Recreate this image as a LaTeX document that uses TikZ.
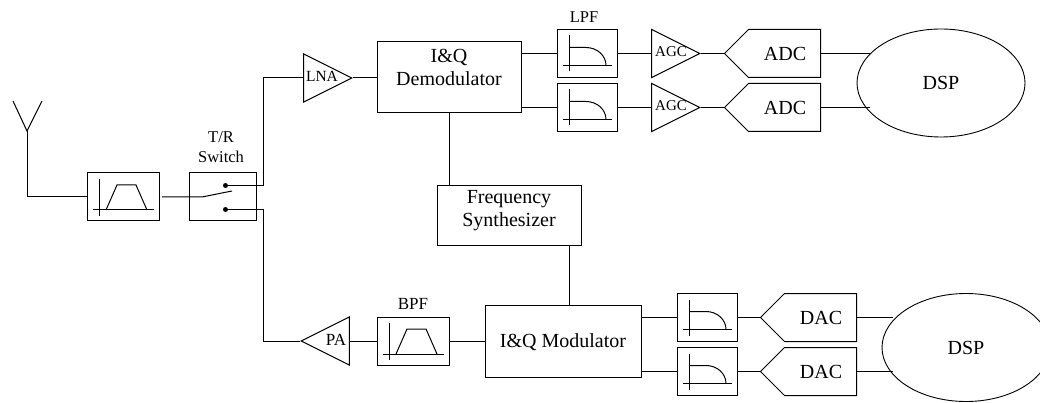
\documentclass[tikz,border=0pt]{standalone}
\usepackage{fontspec}
\setmainfont{Liberation Serif}
\usetikzlibrary{shapes.geometric, shapes.symbols, positioning, calc}
\tikzset{
  wire/.style={line width=1pt},
  blockbox/.style={draw, line width=1pt, inner sep=0pt, minimum width=#1, minimum height=48pt},
  bigtext/.style={font=\fontsize{20}{23}\selectfont, align=center, inner sep=0pt},
  smalltext/.style={font=\fontsize{16.5}{20}\selectfont, align=center, inner sep=0pt},
  ampshape/.style={draw, line width=1pt, isosceles triangle, isosceles triangle stretches, minimum width=48pt, minimum height=48pt, inner sep=0pt},
  convshape/.style={draw, line width=1pt, signal, signal to=west, signal pointer angle=90, minimum width=96pt, minimum height=48pt, inner sep=0pt, anchor=east},
  dspshape/.style={draw, line width=0.9pt, ellipse, minimum width=168pt, minimum height=108pt, inner sep=0pt},
  contact/.style={circle, fill=black, minimum size=5pt, inner sep=0pt},
  bpficon/.pic={
    \draw[line width=1pt] (-24,-18) -- (-24,19);
    \draw[line width=1pt] (-30,13) -- (31,13);
    \draw[line width=1pt] (-17,13) -- (-6,-12) -- (13,-12) -- (24,13);
  },
  lpficon/.pic={
    \draw[line width=1pt] (-17.5,-18) -- (-17.5,18);
    \draw[line width=1pt] (-24,12) -- (25,12);
    \draw[line width=1pt] (-17.5,-6) -- (-1,-6) .. controls (10,-6) and (19,2) .. (19,12);
  }
}
\begin{document}
\begin{tikzpicture}[x=1pt, y=-1pt]
  \useasboundingbox (0,0) rectangle (1040,403);

  % Antenna
  \coordinate (ant) at (27,131);
  \coordinate (antl) at (13,101);
  \coordinate (antr) at (42,101);
  \draw[wire] (antl) -- (ant) -- (antr);

  % Front end
  \node[blockbox=72pt] (filt) at (123,197) {};
  \pic at (filt) {bpficon};
  \node[blockbox=67pt] (sw) at (222.5,197) {};
  \node[smalltext] (swlabel) at (221,147) {T/R\\Switch};
  \node[contact] (rxpin) at (225.5,185.5) {};
  \node[contact] (txpin) at (225.5,209.5) {};
  \coordinate (swin) at (162,197);
  \coordinate (hinge) at (202,197);
  \coordinate (blade) at (232,191);
  \coordinate (rxturn) at (263,185.5);
  \coordinate (txturn) at (263,209.5);

  % Receive chain
  \node[ampshape, anchor=apex] (lna) at (353,78) {};
  \node[font=\fontsize{15.5}{18}\selectfont, inner sep=0pt] (lnatext) at (322,76) {LNA};
  \node[draw, line width=1pt, minimum width=144pt, minimum height=71pt, inner sep=0pt] (demod) at (449,77.5) {};
  \node[bigtext] (demodtext) at (449,67) {I\&Q\\Demodulator};
  \node[smalltext] (lpflabel) at (584,17) {LPF};
  \node[blockbox=60pt] (lpfa) at (587,53.5) {};
  \node[blockbox=60pt] (lpfb) at (587,107.5) {};
  \pic at (lpfa) {lpficon};
  \pic at (lpfb) {lpficon};
  \node[ampshape, anchor=apex] (agca) at (701,53.5) {};
  \node[ampshape, anchor=apex] (agcb) at (701,107.5) {};
  \node[font=\fontsize{15}{18}\selectfont, inner sep=0pt] (agcatext) at (671,52) {AGC};
  \node[font=\fontsize{15}{18}\selectfont, inner sep=0pt] (agcbtext) at (671,106) {AGC};
  \node[convshape] (adca) at (821,53.5) {};
  \node[convshape] (adcb) at (821,107.5) {};
  \node[bigtext] (adcatext) at (785,54) {ADC};
  \node[bigtext] (adcbtext) at (785,108) {ADC};
  \node[dspshape] (dspr) at (941,83) {};
  \node[bigtext] (dsprtext) at (941,83) {DSP};
  \coordinate (dspra) at (870,53.5);
  \coordinate (dsprb) at (870,107.5);

  % Synthesizer
  \node[draw, line width=1pt, minimum width=144pt, minimum height=59pt, inner sep=0pt] (synth) at (509,215.5) {};
  \node[bigtext] (synthtext) at (509,210.5) {Frequency\\Synthesizer};

  % Transmit chain
  \node[ampshape, shape border rotate=180, anchor=apex] (pa) at (300,341) {};
  \node[font=\fontsize{17}{20}\selectfont, inner sep=0pt] (patext) at (336,340) {PA};
  \node[font=\fontsize{17}{20}\selectfont, inner sep=0pt] (bpflabel) at (413,304) {BPF};
  \node[blockbox=72pt] (bpf) at (413,341) {};
  \pic at (bpf) {bpficon};
  \node[draw, line width=1pt, minimum width=156pt, minimum height=72pt, inner sep=0pt] (mod) at (563,341) {};
  \node[bigtext] (modtext) at (563,342) {I\&Q Modulator};
  \coordinate (modtap) at (569,305);
  \node[blockbox=60pt] (lpfc) at (707,317.5) {};
  \node[blockbox=60pt] (lpfd) at (707,371.5) {};
  \pic at (lpfc) {lpficon};
  \pic at (lpfd) {lpficon};
  \node[convshape] (daca) at (857,317.5) {};
  \node[convshape] (dacb) at (857,371.5) {};
  \node[bigtext] (dacatext) at (821,318) {DAC};
  \node[bigtext] (dacbtext) at (821,372) {DAC};
  \node[dspshape] (dspt) at (966,347.5) {};
  \node[bigtext] (dspttext) at (966,347.5) {DSP};
  \coordinate (dspta) at (893,317.5);
  \coordinate (dsptb) at (893,371.5);

  % Connectors
  \draw[wire] (ant) |- (filt.west);
  \draw[wire] (swin) -- (hinge) -- (blade);
  \draw[wire] (rxpin) -- (rxturn) |- (lna.west |- lna.apex);
  \draw[wire] (txpin) -- (txturn) |- (pa.apex);
  \draw[wire] (lna.apex) -- (demod.west |- lna.apex);
  \draw[wire] (demod.east |- lpfa.west) -- (lpfa.west);
  \draw[wire] (demod.east |- lpfb.west) -- (lpfb.west);
  \draw[wire] (lpfa.east) -- (agca.west |- lpfa.east);
  \draw[wire] (lpfb.east) -- (agcb.west |- lpfb.east);
  \draw[wire] (agca.apex) -- (adca.west);
  \draw[wire] (agcb.apex) -- (adcb.west);
  \draw[wire] (adca.east) -- (dspra);
  \draw[wire] (adcb.east) -- (dsprb);
  \draw[wire] (demod.south) -- (demod.south |- synth.north);
  \draw[wire] (modtap |- synth.south) -- (modtap);
  \draw[wire] (pa.east |- pa.apex) -- (bpf.west);
  \draw[wire] (bpf.east) -- (mod.west);
  \draw[wire] (mod.east |- lpfc.west) -- (lpfc.west);
  \draw[wire] (mod.east |- lpfd.west) -- (lpfd.west);
  \draw[wire] (lpfc.east) -- (daca.west);
  \draw[wire] (lpfd.east) -- (dacb.west);
  \draw[wire] (daca.east) -- (dspta);
  \draw[wire] (dacb.east) -- (dsptb);
\end{tikzpicture}
\end{document}
